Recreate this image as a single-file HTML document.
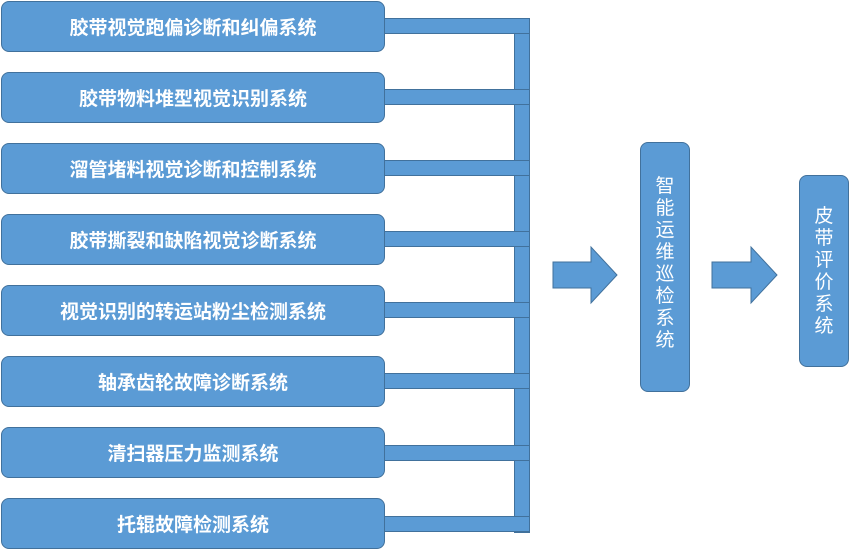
<!DOCTYPE html>
<html><head><meta charset="utf-8"><style>
body{margin:0;width:850px;height:550px;background:#fff;position:relative;overflow:hidden;font-family:"Liberation Sans","Noto Sans CJK SC",sans-serif}
.b{position:absolute;background:#5b9bd5;border:1.5px solid #41719c;box-sizing:border-box;border-radius:8px;color:#fff;display:flex;align-items:center;justify-content:center}
.l{left:1px;width:384px;height:51px;font-weight:bold;font-size:19px}
.bar{position:absolute;background:#5b9bd5;border:1px solid #41719c;box-sizing:border-box}
.v{flex-direction:column;font-size:19px;line-height:22px;justify-content:flex-start}
</style></head><body>
<div class="bar" style="left:514px;top:18px;width:16px;height:515px"></div>
<div class="bar" style="left:383px;top:18px;width:147px;height:16px"></div>
<div class="bar" style="left:383px;top:89px;width:147px;height:16px"></div>
<div class="bar" style="left:383px;top:160px;width:147px;height:16px"></div>
<div class="bar" style="left:383px;top:231px;width:147px;height:16px"></div>
<div class="bar" style="left:383px;top:302px;width:147px;height:16px"></div>
<div class="bar" style="left:383px;top:373px;width:147px;height:16px"></div>
<div class="bar" style="left:383px;top:445px;width:147px;height:16px"></div>
<div class="bar" style="left:383px;top:516px;width:147px;height:16px"></div>
<div class="b l" style="top:1px">胶带视觉跑偏诊断和纠偏系统</div>
<div class="b l" style="top:72px">胶带物料堆型视觉识别系统</div>
<div class="b l" style="top:143px">溜管堵料视觉诊断和控制系统</div>
<div class="b l" style="top:214px">胶带撕裂和缺陷视觉诊断系统</div>
<div class="b l" style="top:285px">视觉识别的转运站粉尘检测系统</div>
<div class="b l" style="top:356px">轴承齿轮故障诊断系统</div>
<div class="b l" style="top:427px">清扫器压力监测系统</div>
<div class="b l" style="top:498px">托辊故障检测系统</div>
<svg style="position:absolute;left:0;top:0" width="850" height="550">
<polygon points="553,262 591,262 591,247 617,275 591,303 591,288 553,288" fill="#5b9bd5" stroke="#41719c" stroke-width="1"/>
<polygon points="712,262 751,262 751,247 777,275 751,303 751,288 712,288" fill="#5b9bd5" stroke="#41719c" stroke-width="1"/>
</svg>
<div class="b v" style="left:640px;top:142px;width:50px;height:250px;padding-top:33px">
<span>智</span><span>能</span><span>运</span><span>维</span><span>巡</span><span>检</span><span>系</span><span>统</span></div>
<div class="b v" style="left:799px;top:175px;width:50px;height:192px;padding-top:30px">
<span>皮</span><span>带</span><span>评</span><span>价</span><span>系</span><span>统</span></div>
</body></html>
